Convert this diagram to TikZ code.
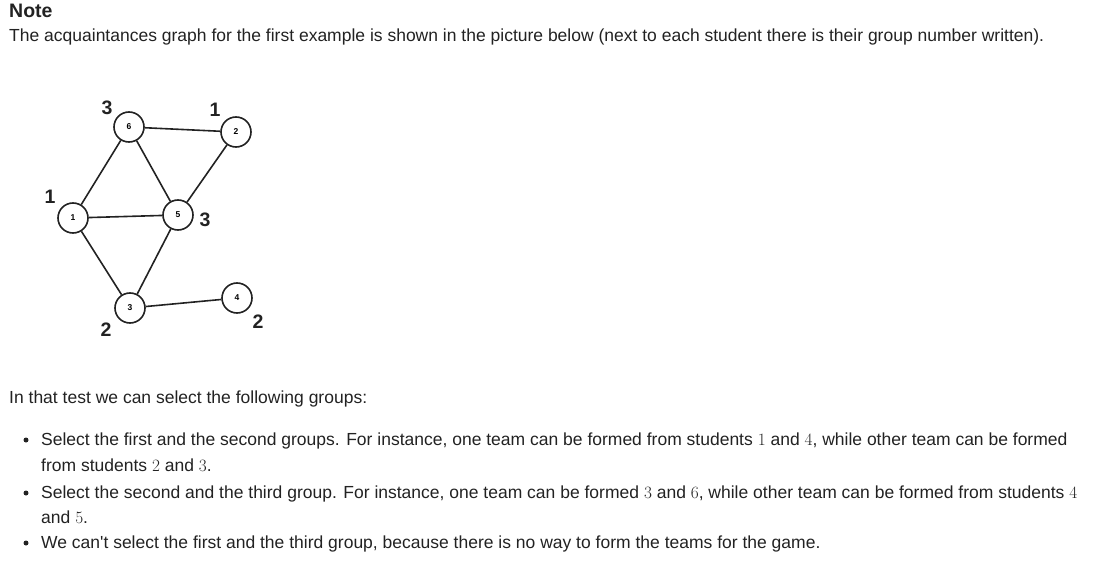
\documentclass[tikz,border=0pt]{standalone}
\usepackage{fontspec}
\setmainfont{Liberation Sans}
\usepackage{amsmath}
\definecolor{ink}{HTML}{222222}
\tikzset{x=1pt, y=-1pt, auto,
  vert/.style={circle, draw=ink, line width=1.6pt, fill=white, minimum size=30pt,
    inner sep=0pt, font=\fontsize{8.5}{8.5}\selectfont\bfseries},
  grp/.style={font=\fontsize{19.5}{19.5}\selectfont\bfseries, text=ink, inner sep=0pt},
  txt/.style={anchor=base west, inner sep=0pt, text=ink, font=\fontsize{17.5}{17.5}\selectfont},
  dot/.style={circle, fill=ink, inner sep=0pt, minimum size=5pt}}
\newcommand{\num}[1]{{\fontsize{19}{19}\selectfont$#1$}}

\begin{document}
\begin{tikzpicture}
                \useasboundingbox (0,0) rectangle (1093,567);
                \node (note)  [txt, font=\fontsize{19.5}{19.5}\selectfont\bfseries] at (9,18) {Note};
                \node (intro) [txt] at (9,42) {The acquaintances graph for the first example is shown in the picture below (next to each student there is their group number written).};
                % the graph
                \node (v6) [vert] at (129,127) {6};
                \node (v2) [vert] at (236,132) {2};
                \node (v1) [vert] at (73,218)  {1};
                \node (v5) [vert] at (178,215) {5};
                \node (v3) [vert] at (130,308) {3};
                \node (v4) [vert] at (237,298) {4};
                \draw[ink, line width=1.6pt] (v6) -- (v2);
                \draw[ink, line width=1.6pt] (v6) -- (v1);
                \draw[ink, line width=1.6pt] (v6) -- (v5);
                \draw[ink, line width=1.6pt] (v2) -- (v5);
                \draw[ink, line width=1.6pt] (v1) -- (v5);
                \draw[ink, line width=1.6pt] (v1) -- (v3);
                \draw[ink, line width=1.6pt] (v5) -- (v3);
                \draw[ink, line width=1.6pt] (v3) -- (v4);
                \node (g6) [grp] at (107,108) {3};
                \node (g2) [grp] at (215,110) {1};
                \node (g1) [grp] at (50,197)  {1};
                \node (g5) [grp] at (205,220) {3};
                \node (g3) [grp] at (106,330) {2};
                \node (g4) [grp] at (258,322) {2};
                % the list
                \node (test) [txt] at (9,403) {In that test we can select the following groups:};
                \node (b1) [dot] at (26,440) {};
                \node (l1) [txt] at (41,445) {Select the first and the second groups. For instance, one team can be formed from students \num{1} and \num{4}, while other team can be formed};
                \node (l1b) [txt] at (41,471) {from students \num{2} and \num{3}.};
                \node (b2) [dot] at (26,493) {};
                \node (l2) [txt] at (41,498) {Select the second and the third group. For instance, one team can be formed \num{3} and \num{6}, while other team can be formed from students \num{4}};
                \node (l2b) [txt] at (41,523) {and \num{5}.};
                \node (b3) [dot] at (26,543) {};
                \node (l3) [txt] at (41,548) {We can\textquotesingle t select the first and the third group, because there is no way to form the teams for the game.};
              \end{tikzpicture}
\end{document}
